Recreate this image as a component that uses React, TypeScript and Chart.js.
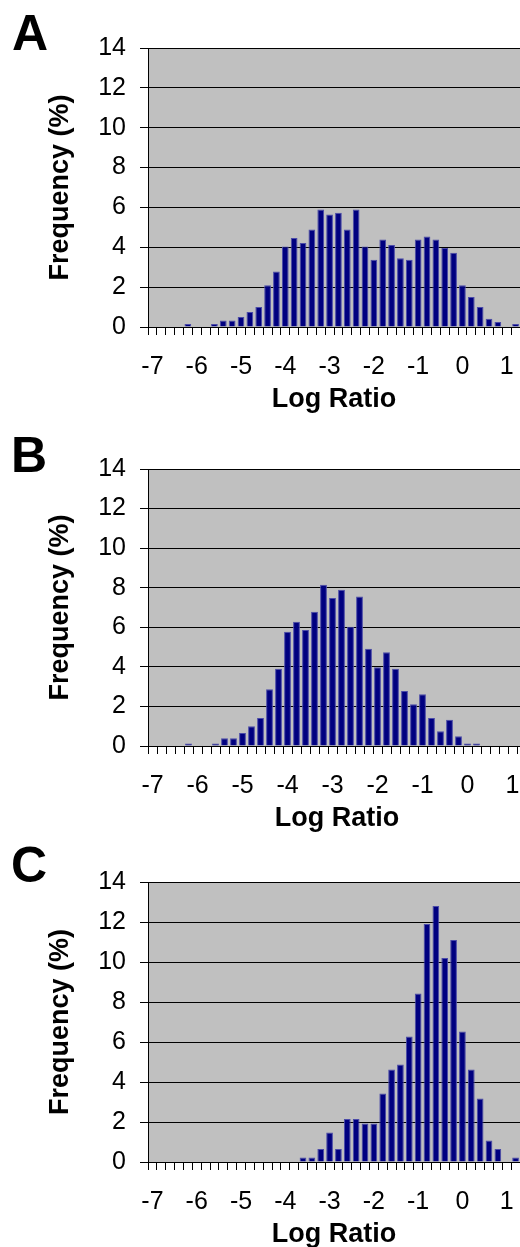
import React, { useEffect, useRef } from 'react';
import { Chart, registerables } from 'chart.js';

Chart.register(...registerables);

// Bin starts (log ratio), width 0.2
const logRatioBins = [
  -7.0, -6.8, -6.6, -6.4, -6.2, -6.0, -5.8, -5.6, -5.4, -5.2,
  -5.0, -4.8, -4.6, -4.4, -4.2, -4.0, -3.8, -3.6, -3.4, -3.2,
  -3.0, -2.8, -2.6, -2.4, -2.2, -2.0, -1.8, -1.6, -1.4, -1.2,
  -1.0, -0.8, -0.6, -0.4, -0.2, 0.0, 0.2, 0.4, 0.6, 0.8,
  1.0, 1.2,
];
const xTickLabels = ['-7', '-6', '-5', '-4', '-3', '-2', '-1', '0', '1'];

const freqA = [
  0, 0, 0, 0, 0.15, 0, 0, 0.15, 0.32, 0.32,
  0.5, 0.75, 1.0, 2.09, 2.78, 4.04, 4.47, 4.22, 4.89, 5.9,
  5.64, 5.73, 4.89, 5.9, 4.04, 3.37, 4.39, 4.12, 3.45, 3.37,
  4.39, 4.54, 4.39, 3.97, 3.72, 2.09, 1.51, 1.0, 0.42, 0.25,
  0, 0.15,
];
const freqB = [
  0, 0, 0, 0, 0.13, 0, 0, 0.13, 0.39, 0.39,
  0.66, 1.0, 1.42, 2.87, 3.9, 5.77, 6.28, 5.86, 6.78, 8.15,
  7.48, 7.9, 6.03, 7.56, 4.91, 3.98, 4.74, 3.9, 2.78, 2.11,
  2.62, 1.42, 0.74, 1.33, 0.49, 0.13, 0.13, 0, 0, 0,
  0, 0,
];
const freqC = [
  0, 0, 0, 0, 0, 0, 0, 0, 0, 0,
  0, 0, 0, 0, 0, 0, 0, 0.22, 0.22, 0.65,
  1.48, 0.65, 2.15, 2.15, 1.92, 1.92, 3.42, 4.62, 4.87, 6.28,
  8.42, 11.9, 12.8, 10.2, 11.1, 6.53, 4.62, 3.17, 1.07, 0.65,
  0, 0.22,
];

const FONT = '"Liberation Sans", Arial, Helvetica, sans-serif';

const plotBg = {
  id: 'plotBg',
  beforeDraw(chart: any) {
    const { ctx, chartArea } = chart;
    if (!chartArea) return;
    ctx.save();
    ctx.fillStyle = '#c0c0c0';
    ctx.fillRect(chartArea.left, chartArea.top, chartArea.right - chartArea.left, chartArea.bottom - chartArea.top);
    ctx.restore();
  },
};

type PanelProps = {
  data: number[];
  top: number;
  height: number;
  width: number;
  padTop: number;
};

function Panel({ data, top, height, width, padTop }: PanelProps) {
  const ref = useRef<HTMLCanvasElement | null>(null);
  useEffect(() => {
    if (!ref.current) return;
    const chart = new Chart(ref.current, {
      type: 'bar',
      data: {
        labels: logRatioBins.map(String),
        datasets: [
          {
            data,
            backgroundColor: '#000080',
            borderColor: '#4a4aa8',
            borderWidth: 1,
            barPercentage: 0.76,
            categoryPercentage: 1.0,
          },
        ],
      },
      options: {
        responsive: false,
        animation: false,
        devicePixelRatio: 1,
        layout: { padding: { top: padTop, left: 0, right: 0, bottom: 0 } },
        plugins: { legend: { display: false }, tooltip: { enabled: false } },
        scales: {
          x: {
            offset: true,
            grid: {
              display: true,
              drawOnChartArea: false,
              drawTicks: true,
              tickLength: 8,
              tickColor: '#000',
              offset: true,
            },
            border: { display: true, color: '#000', width: 1 },
            ticks: {
              autoSkip: false,
              maxRotation: 0,
              minRotation: 0,
              padding: 17,
              color: '#000',
              font: { family: FONT, size: 25 },
              callback: (_v: any, i: number) => (i % 5 === 0 ? xTickLabels[i / 5] ?? '' : ''),
            },
            title: {
              display: true,
              text: 'Log Ratio',
              color: '#000',
              font: { family: FONT, size: 27, weight: 'bold' },
              padding: { top: 0, bottom: 1 },
            },
            afterFit: (s: any) => {
              s.height = 90;
              s.paddingLeft = 0;
              s.paddingRight = 0;
            },
          },
          y: {
            min: 0,
            max: 14,
            grid: {
              color: '#000',
              lineWidth: 1,
              drawTicks: true,
              tickLength: 8,
              tickColor: '#000',
            },
            border: { display: true, color: '#000', width: 1 },
            ticks: {
              stepSize: 2,
              padding: 14,
              color: '#000',
              font: { family: FONT, size: 25 },
            },
            title: {
              display: true,
              text: 'Frequency (%)',
              color: '#000',
              font: { family: FONT, size: 27, weight: 'bold' },
              padding: { top: 44, bottom: 0 },
            },
            afterFit: (s: any) => {
              s.width = 148;
            },
          },
        },
      },
      plugins: [plotBg],
    });
    return () => chart.destroy();
  }, [data, padTop]);

  return (
    <canvas
      ref={ref}
      width={width}
      height={height}
      style={{ position: 'absolute', left: 0, top, display: 'block' }}
    />
  );
}

const letterStyle: React.CSSProperties = {
  position: 'absolute',
  fontFamily: FONT,
  fontWeight: 'bold',
  fontSize: 50,
  lineHeight: 1,
  color: '#000',
};

export default function App() {
  return (
    <div
      style={{
        position: 'absolute',
        left: 0,
        top: 0,
        width: 520,
        height: 1247,
        overflow: 'hidden',
        background: '#fff',
      }}
    >
      <Panel data={freqA} top={0} height={417} width={520} padTop={48} />
      <Panel data={freqB} top={417} height={419} width={526} padTop={52} />
      <Panel data={freqC} top={836} height={416} width={520} padTop={46} />
      <div style={{ ...letterStyle, left: 12, top: 8 }}>A</div>
      <div style={{ ...letterStyle, left: 11, top: 430 }}>B</div>
      <div style={{ ...letterStyle, left: 11, top: 840 }}>C</div>
    </div>
  );
}
